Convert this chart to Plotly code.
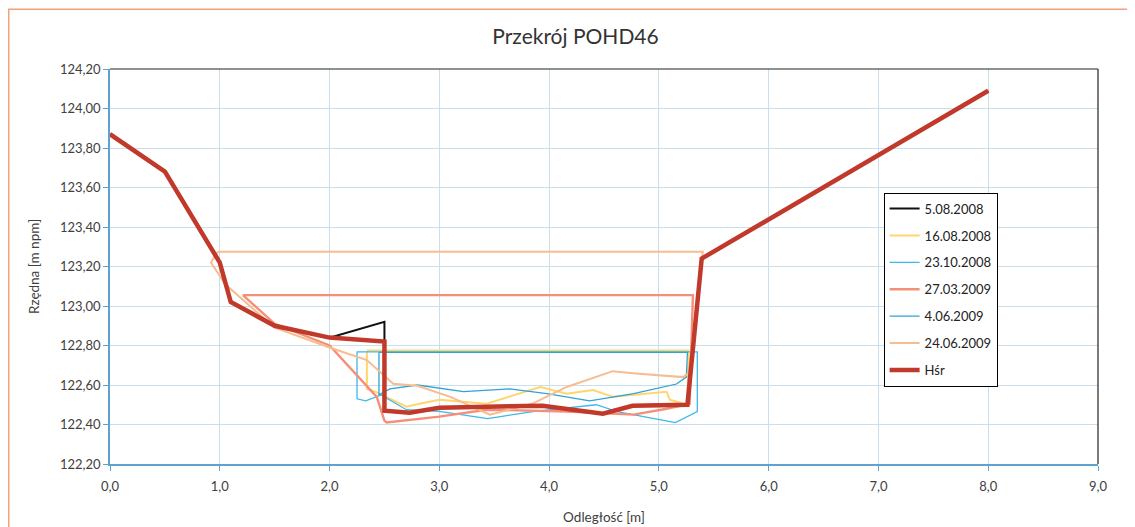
import plotly.graph_objects as go

# ---------------- data ----------------
hsr_x = [0.0, 0.5, 1.0, 1.1, 1.5, 2.0, 2.5, 2.5, 2.73, 3.0, 3.43, 3.94, 4.49, 4.76, 5.26, 5.39, 8.0]
hsr_y = [123.87, 123.68, 123.22, 123.02, 122.90, 122.84, 122.82, 122.47, 122.46, 122.485, 122.49, 122.495, 122.455, 122.495, 122.50, 123.24, 124.09]

s0508_x = [0.0, 0.5, 1.0, 1.1, 1.5, 2.0, 2.5, 2.5, 2.73, 3.0, 3.43, 3.94, 4.49, 4.76, 5.26, 5.39, 8.0]
s0508_y = [123.87, 123.68, 123.22, 123.02, 122.90, 122.84, 122.92, 122.47, 122.46, 122.485, 122.49, 122.495, 122.455, 122.495, 122.50, 123.24, 124.09]

s1608_x = [2.34, 2.34, 2.42, 2.70, 2.82, 3.0, 3.43, 3.92, 4.16, 4.40, 4.58, 5.07, 5.10, 5.26, 5.27, 2.34]
s1608_y = [122.77, 122.58, 122.565, 122.49, 122.505, 122.525, 122.505, 122.59, 122.556, 122.575, 122.54, 122.566, 122.525, 122.50, 122.775, 122.775]

s2310_x = [2.25, 2.25, 2.33, 2.47, 2.70, 3.0, 3.44, 3.85, 4.43, 4.62, 5.15, 5.35, 5.35, 2.25]
s2310_y = [122.77, 122.53, 122.52, 122.55, 122.475, 122.466, 122.43, 122.465, 122.50, 122.465, 122.41, 122.465, 122.768, 122.768]

s2703_x = [1.21, 1.5, 2.0, 2.43, 2.5, 2.52, 3.0, 3.43, 4.16, 4.77, 5.07, 5.28, 5.31, 1.21]
s2703_y = [123.055, 122.91, 122.80, 122.54, 122.42, 122.41, 122.44, 122.475, 122.466, 122.45, 122.48, 122.505, 123.055, 123.055]

s0406_x = [2.45, 2.45, 2.55, 2.80, 3.22, 3.64, 3.98, 4.37, 4.77, 5.16, 5.25, 5.26, 2.45]
s0406_y = [122.765, 122.55, 122.58, 122.60, 122.566, 122.58, 122.556, 122.52, 122.556, 122.605, 122.64, 122.765, 122.765]

s2406_x = [0.98, 0.92, 1.05, 1.5, 2.0, 2.34, 2.58, 2.80, 3.10, 3.46, 3.85, 4.16, 4.58, 4.76, 5.22, 5.27, 5.40, 0.98]
s2406_y = [123.275, 123.22, 123.11, 122.89, 122.79, 122.726, 122.606, 122.596, 122.54, 122.45, 122.506, 122.59, 122.67, 122.66, 122.64, 122.66, 123.275, 123.275]

series = [
    ("5.08.2008", s0508_x, s0508_y, "#111111", 2.0),
    ("16.08.2008", s1608_x, s1608_y, "#FFD56E", 2.0),
    ("23.10.2008", s2310_x, s2310_y, "#3DB8EA", 1.3),
    ("27.03.2009", s2703_x, s2703_y, "#F59078", 2.4),
    ("4.06.2009", s0406_x, s0406_y, "#2FA3D3", 1.3),
    ("24.06.2009", s2406_x, s2406_y, "#F8BC8E", 2.0),
    ("Hśr", hsr_x, hsr_y, "#C0392B", 4.5),
]

x_ticks = [0, 1, 2, 3, 4, 5, 6, 7, 8, 9]
y_ticks = [122.2, 122.4, 122.6, 122.8, 123.0, 123.2, 123.4, 123.6, 123.8, 124.0, 124.2]

FONT = "Lato"
TXT = "#404040"

fig = go.Figure()
for i, (name, xs, ys, col, w) in enumerate(series):
    fig.add_trace(go.Scatter(
        x=xs, y=ys, mode="lines", name=name,
        line=dict(color=col, width=w),
        legendgroup=f"g{i}",
    ))

fig.update_layout(
    width=1135, height=527,
    margin=dict(l=102, r=45, t=61, b=67),
    paper_bgcolor="white", plot_bgcolor="white",
    separators=", ",
    font=dict(family=FONT, size=13, color=TXT),
    title=dict(text="Przekrój POHD46", x=0.5, xref="container", xanchor="center",
               y=0.945, yref="container", yanchor="middle",
               font=dict(family=FONT, size=21, color="#333333")),
    showlegend=True,
    legend=dict(x=0.783, y=0.687, xanchor="left", yanchor="top",
                bgcolor="white", bordercolor="#000000", borderwidth=1,
                font=dict(family=FONT, size=13, color="#222222"),
                tracegroupgap=7, traceorder="grouped"),
)

fig.update_xaxes(
    range=[0, 9], tickvals=x_ticks, tickformat=".1f",
    showgrid=True, gridcolor="#C9DFEC", gridwidth=1,
    showline=True, linecolor="#5FA2CF", linewidth=1.5,
    ticks="outside", ticklen=5, tickcolor="#5FA2CF",
    zeroline=False, ticklabelstandoff=5,
    tickfont=dict(family=FONT, size=13, color=TXT),
    title=dict(text="Odległość [m]", standoff=19, font=dict(family=FONT, size=13.5, color=TXT)),
)
fig.update_yaxes(
    range=[122.2, 124.2], tickvals=y_ticks, tickformat=".2f",
    showgrid=True, gridcolor="#C9DFEC", gridwidth=1,
    showline=True, linecolor="#5FA2CF", linewidth=1.5,
    ticks="outside", ticklen=5, tickcolor="#5FA2CF",
    zeroline=False,
    tickfont=dict(family=FONT, size=13, color=TXT),
    title=dict(text="Rzędna [m npm]", standoff=17, font=dict(family=FONT, size=13.5, color=TXT)),
)

# plot area border (top and right) and chart outer border
fig.add_shape(type="line", xref="paper", yref="paper", x0=0, x1=1, y0=1, y1=1,
              line=dict(color="#222222", width=1.2), layer="above")
fig.add_shape(type="line", xref="paper", yref="paper", x0=1, x1=1, y0=0, y1=1,
              line=dict(color="#222222", width=1.2), layer="above")
fig.add_shape(type="rect", xref="paper", yref="paper", x0=-0.1025, x1=1.2, y0=-0.3, y1=1.1515,
              line=dict(color="#F2A07E", width=1.5), layer="below")

fig.write_html("out.html")
